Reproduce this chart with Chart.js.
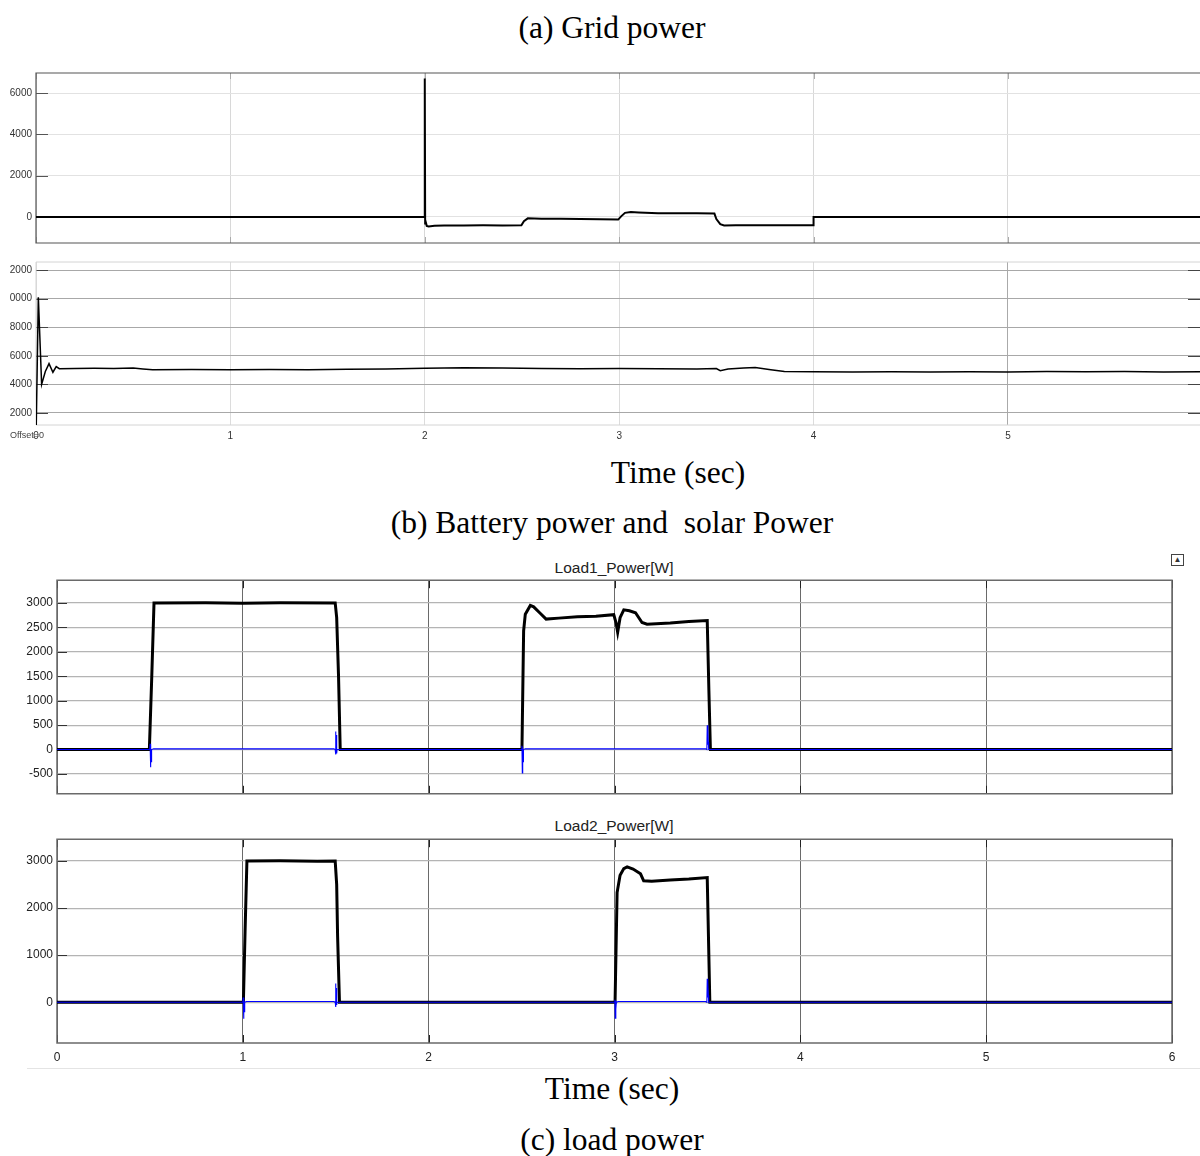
<!DOCTYPE html>
<html>
<head>
<meta charset="utf-8">
<script src="https://cdn.jsdelivr.net/npm/chart.js@4.4.0/dist/chart.umd.min.js"></script>
<style>
body { margin: 0; background: #fff; width: 1200px; height: 1156px; position: relative; overflow: hidden; }
canvas { position: absolute; left: 0; }
.t { position: absolute; font-family: "Liberation Serif", "Times New Roman", serif; font-size: 31.5px; color: #000; white-space: nowrap; transform: translateX(-50%); line-height: 1; }
.s { position: absolute; font-family: "Liberation Sans", Arial, sans-serif; font-size: 15.5px; color: #222; white-space: nowrap; transform: translateX(-50%); line-height: 1; }
</style>
</head>
<body>
<div class="t" style="left:612px;top:12px">(a) Grid power</div>
<canvas id="gridChart" width="1200" height="190" style="top:63px"></canvas>
<canvas id="battChart" width="1200" height="193" style="top:252px"></canvas>
<div style="position:absolute;left:10px;top:430px;font:9px 'Liberation Sans',Arial,sans-serif;color:#444">Offset=0</div>
<div class="t" style="left:678px;top:457px">Time (sec)</div>
<div class="t" style="left:612px;top:507px">(b) Battery power and&nbsp; solar Power</div>
<div style="position:absolute;left:1171px;top:554px;width:11px;height:10px;border:1px solid #444;font:8px 'Liberation Sans',Arial;line-height:10px;text-align:center;color:#333">&#9650;</div>
<div class="s" style="left:614px;top:560px">Load1_Power[W]</div>
<canvas id="load1Chart" width="1200" height="236" style="top:569px"></canvas>
<div class="s" style="left:614px;top:818px">Load2_Power[W]</div>
<canvas id="load2Chart" width="1200" height="240" style="top:828px"></canvas>
<div style="position:absolute;left:27px;top:1068px;width:1173px;height:1px;background:#e4e4e4"></div>
<div class="t" style="left:612px;top:1073px">Time (sec)</div>
<div class="t" style="left:612px;top:1124px">(c) load power</div>

<script>
// (a) grid power
const gridT = [0, 1.999, 2.0, 2.002, 2.005, 2.01, 2.02, 2.05, 2.1, 2.2, 2.3, 2.4, 2.497, 2.51, 2.53, 2.6, 2.7, 2.8, 2.9, 2.995, 3.01, 3.03, 3.06, 3.1, 3.2, 3.3, 3.4, 3.49, 3.5, 3.52, 3.54, 3.6, 3.7, 3.8, 3.9, 3.998, 4.0, 6.0];
const gridP = [0, 0, 6700, -320, -250, -430, -460, -420, -410, -415, -405, -410, -400, -200, -65, -80, -90, -100, -115, -125, 30, 200, 235, 220, 185, 175, 180, 165, -100, -350, -410, -400, -405, -395, -400, -405, 0, 0];
const gridTicks = [0, 2000, 4000, 6000];

// (b) battery / solar power
const battT = [0, 0.012, 0.029, 0.048, 0.067, 0.087, 0.104, 0.12, 0.2, 0.3, 0.4, 0.5, 0.55, 0.6, 0.8, 1.0, 1.2, 1.4, 1.6, 1.8, 2.0, 2.2, 2.4, 2.6, 2.8, 3.0, 3.2, 3.4, 3.5, 3.52, 3.56, 3.64, 3.7, 3.78, 3.85, 4.0, 4.2, 4.4, 4.6, 4.8, 5.0, 5.2, 5.4, 5.6, 5.8, 6.0];
const battP = [0, 10100, 4000, 4900, 5450, 4850, 5250, 5100, 5120, 5130, 5110, 5140, 5080, 5030, 5040, 5020, 5050, 5030, 5060, 5080, 5130, 5170, 5140, 5110, 5100, 5120, 5090, 5080, 5110, 4960, 5080, 5150, 5180, 5030, 4900, 4880, 4870, 4890, 4860, 4880, 4870, 4900, 4880, 4900, 4870, 4880];
const battTicks = [2000, 4000, 6000, 8000, 10000, 12000];
const battTickLabels = ['2000', '4000', '6000', '8000', '0000', '2000'];

// (c) load 1 (black = active, blue = second trace)
const load1T = [0, 0.497, 0.51, 0.522, 0.8, 1.0, 1.2, 1.497, 1.505, 1.515, 1.524, 2.502, 2.511, 2.52, 2.547, 2.565, 2.6, 2.632, 2.7, 2.8, 2.9, 2.996, 3.008, 3.017, 3.03, 3.05, 3.08, 3.113, 3.148, 3.175, 3.3, 3.4, 3.499, 3.508, 3.516, 6.0];
const load1P = [0, 0, 1500, 3000, 3005, 2995, 3005, 3000, 2700, 1500, 0, 0, 2430, 2770, 2950, 2920, 2790, 2670, 2690, 2720, 2730, 2760, 2600, 2400, 2700, 2860, 2840, 2800, 2600, 2565, 2590, 2620, 2640, 1200, 0, 0];
const load1BT = [0, 0.499, 0.501, 0.503, 0.505, 0.507, 0.509, 0.52, 1.49, 1.497, 1.499, 1.501, 1.503, 1.505, 1.507, 2.5, 2.502, 2.504, 2.506, 2.508, 2.51, 2.52, 3.49, 3.497, 3.499, 3.501, 3.503, 3.505, 3.507, 6.0];
const load1BP = [0, 0, 120, -360, 60, -250, 0, 15, 15, 0, 370, -100, 300, -80, 0, 0, 80, -480, 40, -250, 0, 15, 15, 0, 500, 100, 450, 150, 0, 0];

// (c) load 2
const load2T = [0, 1.003, 1.012, 1.022, 1.2, 1.4, 1.497, 1.505, 1.51, 1.52, 3.003, 3.014, 3.03, 3.05, 3.068, 3.1, 3.14, 3.157, 3.2, 3.3, 3.4, 3.499, 3.513, 6.0];
const load2P = [0, 0, 1500, 3000, 3005, 2995, 3000, 2500, 1400, 0, 0, 2330, 2700, 2840, 2875, 2830, 2730, 2580, 2570, 2600, 2620, 2650, 0, 0];
const load2BT = [0, 1.0, 1.002, 1.004, 1.006, 1.008, 1.01, 1.02, 1.49, 1.497, 1.499, 1.501, 1.503, 1.505, 1.507, 3.0, 3.002, 3.004, 3.006, 3.008, 3.01, 3.02, 3.49, 3.497, 3.499, 3.501, 3.503, 3.505, 3.507, 6.0];
const load2BP = [0, 0, 100, -350, 50, -200, 0, 15, 15, 0, 400, -100, 300, -60, 0, 0, 50, -340, 30, -150, 0, 15, 15, 0, 500, 100, 450, 150, 0, 0];

const loadTicks1 = [-500, 0, 500, 1000, 1500, 2000, 2500, 3000];
const loadTicks2 = [0, 1000, 2000, 3000];
const timeTicks = [0, 1, 2, 3, 4, 5, 6];
const timeTicksTop = [0, 1, 2, 3, 4, 5];

const pts = (xs, ys) => xs.map((x, i) => ({ x: x, y: ys[i] }));

// frame + inward tick marks
const frameTicks = {
    id: 'frameTicks',
    beforeDatasetsDraw(chart, args, o) {
        const ctx = chart.ctx, a = chart.chartArea, sx = chart.scales.x, sy = chart.scales.y;
        ctx.save();
        ctx.lineWidth = 1;
        ctx.strokeStyle = o.tickColor;
        ctx.beginPath();
        sy.ticks.forEach(t => {
            const py = Math.round(sy.getPixelForValue(t.value)) + 0.5;
            ctx.moveTo(a.left, py); ctx.lineTo(a.left + o.len, py);
            if (o.right) { ctx.moveTo(a.right, py); ctx.lineTo(a.right - o.len, py); }
        });
        ctx.stroke();
        if (o.xLen) {
            ctx.strokeStyle = o.xColor;
            ctx.beginPath();
            sx.ticks.forEach(t => {
                const px = Math.round(sx.getPixelForValue(t.value)) + 0.5;
                ctx.moveTo(px, a.top); ctx.lineTo(px, a.top + o.xLen);
                ctx.moveTo(px, a.bottom); ctx.lineTo(px, a.bottom - o.xLen);
            });
            ctx.stroke();
        }
        ctx.strokeStyle = o.frameColor;
        ctx.lineWidth = o.frameWidth;
        ctx.beginPath();
        ctx.moveTo(a.right, a.top); ctx.lineTo(a.left, a.top); ctx.lineTo(a.left, a.bottom); ctx.lineTo(a.right, a.bottom);
        if (o.closed) ctx.closePath();
        ctx.stroke();
        ctx.restore();
    }
};

function makeChart(id, cfg) {
    return new Chart(document.getElementById(id), {
        type: 'line',
        data: { datasets: cfg.datasets },
        options: {
            responsive: false,
            animation: false,
            parsing: false,
            layout: { padding: { top: 10, right: cfg.padRight, bottom: 0, left: 0 } },
            elements: { point: { radius: 0 }, line: { tension: 0 } },
            plugins: { legend: { display: false }, tooltip: { enabled: false }, frameTicks: cfg.frame },
            scales: {
                x: {
                    type: 'linear', min: 0, max: cfg.xMax,
                    afterBuildTicks: s => { s.ticks = cfg.xTicks.map(v => ({ value: v })); },
                    afterFit: s => { s.height = cfg.xHeight; },
                    border: { display: false },
                    grid: { color: cfg.xGrid, lineWidth: 1, drawTicks: false },
                    ticks: { display: cfg.xLabels, padding: cfg.xPad, color: cfg.labelColor,
                        font: { family: 'Liberation Sans', size: cfg.fontSize } }
                },
                y: {
                    min: cfg.yMin, max: cfg.yMax,
                    afterBuildTicks: s => { s.ticks = cfg.yTicks.map(v => ({ value: v })); },
                    afterFit: s => { s.width = cfg.yWidth; },
                    border: { display: false },
                    grid: { color: cfg.yGrid, lineWidth: cfg.yGridWidth, drawTicks: false },
                    ticks: { padding: 4, color: cfg.labelColor, callback: cfg.yLabel,
                        font: { family: 'Liberation Sans', size: cfg.fontSize } }
                }
            }
        },
        plugins: [frameTicks]
    });
}

makeChart('gridChart', {
    datasets: [{ data: pts(gridT, gridP), borderColor: '#000', borderWidth: 2 }],
    padRight: 0, xMax: 5.988, xTicks: timeTicksTop, xHeight: 10, xLabels: false, xPad: 0,
    xGrid: '#d8d8d8', yMin: -1260, yMax: 6970, yTicks: gridTicks, yWidth: 36,
    yGrid: '#e2e2e2', yGridWidth: 1, labelColor: '#333', fontSize: 10,
    yLabel: v => String(v),
    frame: { tickColor: '#555', len: 12, xLen: 6, xColor: '#aaa', frameColor: '#555', frameWidth: 1.2 }
});

makeChart('battChart', {
    datasets: [{ data: pts(battT, battP), borderColor: '#000', borderWidth: 1.5 }],
    padRight: 0, xMax: 5.988, xTicks: timeTicksTop, xHeight: 20, xLabels: true, xPad: 5,
    xGrid: c => (c.tick && c.tick.value === 5 ? '#aaa' : '#dcdcdc'),
    yMin: 1160, yMax: 12560, yTicks: battTicks, yWidth: 36,
    yGrid: '#a8a8a8', yGridWidth: 1, labelColor: '#333', fontSize: 10,
    yLabel: v => battTickLabels[battTicks.indexOf(v)],
    frame: { tickColor: '#444', len: 12, right: true, frameColor: '#d4d4d4', frameWidth: 1 }
});

makeChart('load1Chart', {
    datasets: [
        { data: pts(load1BT, load1BP), borderColor: '#0000ff', borderWidth: 1.1 },
        { data: pts(load1T, load1P), borderColor: '#000', borderWidth: 3 }
    ],
    padRight: 28, xMax: 6, xTicks: timeTicks, xHeight: 10, xLabels: false, xPad: 0,
    xGrid: '#6a6a6a', yMin: -905, yMax: 3466, yTicks: loadTicks1, yWidth: 57,
    yGrid: '#b4b4b4', yGridWidth: 1.2, labelColor: '#222', fontSize: 12,
    yLabel: v => String(v),
    frame: { tickColor: '#333', len: 10, xLen: 8, xColor: '#222', frameColor: '#6a6a6a', frameWidth: 1.5, closed: true }
});

makeChart('load2Chart', {
    datasets: [
        { data: pts(load2BT, load2BP), borderColor: '#0000ff', borderWidth: 1.1 },
        { data: pts(load2T, load2P), borderColor: '#000', borderWidth: 3 }
    ],
    padRight: 28, xMax: 6, xTicks: timeTicks, xHeight: 25, xLabels: true, xPad: 7,
    xGrid: '#6a6a6a', yMin: -867, yMax: 3465, yTicks: loadTicks2, yWidth: 57,
    yGrid: '#b4b4b4', yGridWidth: 1.2, labelColor: '#222', fontSize: 12,
    yLabel: v => String(v),
    frame: { tickColor: '#333', len: 10, xLen: 8, xColor: '#222', frameColor: '#6a6a6a', frameWidth: 1.5, closed: true }
});
</script>
</body>
</html>
